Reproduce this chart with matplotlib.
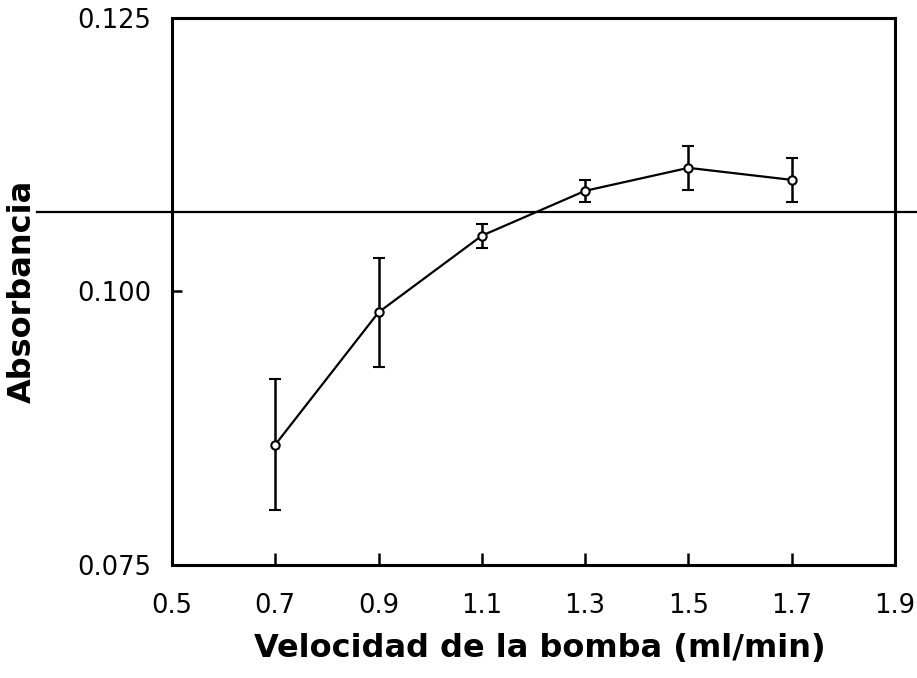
import numpy as np
import matplotlib
matplotlib.use("Agg")
import matplotlib.pyplot as plt

# pump speed (ml/min) vs. absorbance, mean with error bars
velocidad = [0.7, 0.9, 1.1, 1.3, 1.5, 1.7]
absorbancia = [0.0860, 0.0981, 0.1051, 0.1092, 0.1113, 0.1102]
error = [0.0060, 0.0050, 0.0011, 0.0010, 0.0020, 0.0020]
nivel_ref = 0.1073  # reference level drawn across the figure

xticks = [0.5, 0.7, 0.9, 1.1, 1.3, 1.5, 1.7, 1.9]
yticks = [0.075, 0.100, 0.125]

fig = plt.figure(figsize=(9.17, 6.78), dpi=100)
ax = fig.add_axes([0.1876, 0.1667, 0.7884, 0.8068])

ax.errorbar(velocidad, absorbancia, yerr=error, color="black", lw=1.6,
            elinewidth=1.8, capsize=4, capthick=2.2,
            marker="o", ms=6, mfc="white", mec="black", mew=1.5, zorder=3)

ax.axhline(nivel_ref, xmin=-0.187, xmax=1.05, color="black", lw=1.6,
           clip_on=False, zorder=1)

ax.set_xlim(0.5, 1.9)
ax.set_ylim(0.075, 0.125)
ax.set_xticks(xticks)
ax.set_yticks(yticks)
ax.set_xticklabels([f"{v:.1f}" for v in xticks])
ax.set_yticklabels([f"{v:.3f}" for v in yticks])

for s in ax.spines.values():
    s.set_linewidth(2.2)

ax.tick_params(axis="x", direction="in", length=9, width=1.8, pad=20,
               labelsize=18.5)
ax.tick_params(axis="y", direction="in", length=7, width=1.8, pad=15,
               labelsize=18.5)
for lab in ax.get_xticklabels() + ax.get_yticklabels():
    lab.set_fontfamily("DejaVu Sans")

ax.set_xlabel("Velocidad de la bomba (ml/min)", fontsize=23,
              fontweight="bold", fontfamily="DejaVu Sans")
ax.set_ylabel("Absorbancia", fontsize=23, fontweight="bold",
              fontfamily="DejaVu Sans")
ax.xaxis.set_label_coords(0.509, -0.125)
ax.yaxis.set_label_coords(-0.185, 0.5)

fig.savefig("out.png", dpi=100)
